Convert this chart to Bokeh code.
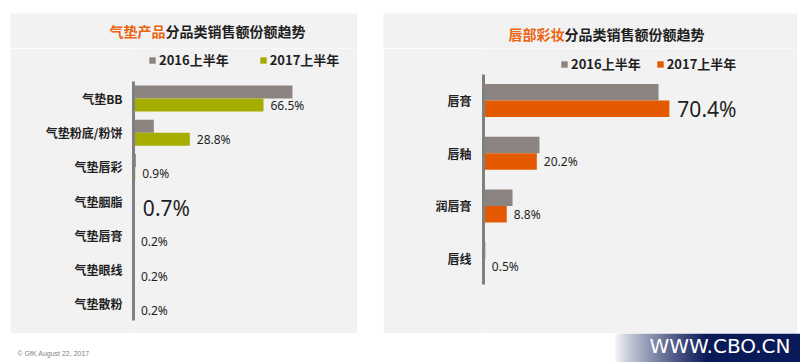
from bokeh.plotting import figure
from bokeh.models import Range1d, FixedTicker, Legend, LegendItem, ColumnDataSource, Spacer
from bokeh.layouts import row, column
from bokeh.transform import dodge
from bokeh.core.properties import value
from bokeh.embed import file_html
from bokeh.resources import INLINE

# ---------------- data ----------------
series_labels = ["2016上半年", "2017上半年"]

left_title_hl = "气垫产品"
left_title_rest = "分品类销售额份额趋势"
left_cats = ["气垫BB", "气垫粉底/粉饼", "气垫唇彩", "气垫胭脂", "气垫唇膏", "气垫眼线", "气垫散粉"]
left_2016 = [81.3, 10.4, 1.2, 0.1, 0.05, 0.05, 0.05]
left_2017 = [66.5, 28.8, 0.9, 0.7, 0.2, 0.2, 0.2]
left_highlight = "气垫胭脂"

right_title_hl = "唇部彩妆"
right_title_rest = "分品类销售额份额趋势"
right_cats = ["唇膏", "唇釉", "润唇膏", "唇线"]
right_2016 = [66.3, 21.2, 11.0, 0.7]
right_2017 = [70.4, 20.2, 8.8, 0.5]
right_highlight = "唇膏"

footer_note = "© GfK August 22, 2017"
watermark = "WWW.CBO.CN"

# ---------------- styles ----------------
GRAY = "#8C8480"
GREEN = "#A5AD00"
ORANGE = "#E35A00"
TITLE_ORANGE = "#EB6410"
DARK = "#1F1F1F"
PANEL_BG = "#F2F2F2"
CJK = value("Noto Sans CJK SC")
NUM = value("Noto Sans")

HEAD_H = 35      # header strip (title) height
CHART_H = 285    # chart strip height


def blank(width, height, bg):
    p = figure(width=width, height=height, output_backend="svg", toolbar_location=None,
               x_range=Range1d(0, width), y_range=Range1d(height, 0),
               x_axis_location=None, y_axis_location=None, frame_align=False,
               min_border_left=0, min_border_right=0, min_border_top=0, min_border_bottom=0)
    p.background_fill_color = bg
    p.border_fill_color = bg
    p.outline_line_color = None
    p.xgrid.visible = False
    p.ygrid.visible = False
    return p


def make_header(width, title_hl, title_rest, split_x, title_y):
    h = blank(width, HEAD_H, PANEL_BG)
    h.text(x=[split_x], y=[title_y], text=[title_hl], text_align="right", text_baseline="middle",
           text_font=CJK, text_font_style="bold", text_font_size="14px", text_color=TITLE_ORANGE)
    h.text(x=[split_x], y=[title_y], text=[title_rest], text_align="left", text_baseline="middle",
           text_font=CJK, text_font_style="bold", text_font_size="14px", text_color=DARK)
    return h


def make_panel(width, height, frame_left, cats, v16, v17, color17, highlight,
               px_per_pct, first_center, cat_step, bar_px,
               legend_x, legend_bottom, legend_spacing, standoff):
    n = len(cats)
    y_top = -first_center / cat_step
    y_bot = (height - first_center) / cat_step
    x_end = (width - frame_left) / px_per_pct
    p = figure(width=width, height=height, output_backend="svg", toolbar_location=None,
               x_range=Range1d(0, x_end), y_range=Range1d(y_bot, y_top),
               x_axis_location=None, frame_align=False,
               min_border_left=frame_left, min_border_right=0,
               min_border_top=0, min_border_bottom=0)
    p.background_fill_color = PANEL_BG
    p.border_fill_color = PANEL_BG
    p.outline_line_color = None
    p.xgrid.visible = False
    p.ygrid.visible = False

    h = bar_px / cat_step
    src = ColumnDataSource(dict(pos=list(range(n)), v16=v16, v17=v17))
    r16 = p.hbar(y=dodge("pos", -h / 2), left=0, right="v16", height=h,
                 fill_color=GRAY, line_color=None, source=src)
    r17 = p.hbar(y=dodge("pos", h / 2), left=0, right="v17", height=h,
                 fill_color=color17, line_color=None, source=src)

    # value labels
    norm = [i for i in range(n) if cats[i] != highlight]
    big = [i for i in range(n) if cats[i] == highlight]
    for idxs, size, off in ((norm, "12px", 7), (big, "21px", 8)):
        s = ColumnDataSource(dict(pos=[i for i in idxs], v=[v17[i] for i in idxs],
                                  lab=[f"{v17[i]:g}%" for i in idxs]))
        p.text(x="v", y=dodge("pos", h / 2), text="lab", source=s, x_offset=off,
               text_align="left", text_baseline="middle", text_font=NUM,
               text_font_size=size, text_color=DARK)

    # category axis
    ax = p.yaxis[0]
    ax.ticker = FixedTicker(ticks=list(range(n)))
    ax.major_label_overrides = {i: c for i, c in enumerate(cats)}
    ax.bounds = (-0.5, n - 0.5)
    ax.axis_line_color = "#808080"
    ax.axis_line_width = 3
    ax.major_tick_line_color = None
    ax.minor_tick_line_color = None
    ax.major_tick_out = 0
    ax.major_tick_in = 0
    ax.minor_tick_out = 0
    ax.major_label_standoff = standoff
    ax.major_label_text_font = "Noto Sans CJK SC"
    ax.major_label_text_font_style = "bold"
    ax.major_label_text_font_size = "12px"
    ax.major_label_text_color = DARK

    legend = Legend(items=[LegendItem(label=series_labels[0], renderers=[r16]),
                           LegendItem(label=series_labels[1], renderers=[r17])],
                    orientation="horizontal", location=(legend_x, legend_bottom),
                    glyph_width=8, glyph_height=8, label_height=14, label_standoff=3,
                    spacing=legend_spacing, padding=0, margin=0,
                    background_fill_alpha=0, border_line_color=None,
                    label_text_font="Noto Sans CJK SC", label_text_font_style="bold",
                    label_text_font_size="13px", label_text_color=DARK)
    p.add_layout(legend)
    return p


hL = make_header(347, left_title_hl, left_title_rest, 155, 17)
pL = make_panel(347, CHART_H, 123, left_cats, left_2016, left_2017, GREEN, left_highlight,
                1.955, 50, 34.2, 13, 15, 264, 30, 11)
hR = make_header(414, right_title_hl, right_title_rest, 181, 20)
pR = make_panel(414, CHART_H, 100, right_cats, right_2016, right_2017, ORANGE, right_highlight,
                2.64, 52, 52.7, 16.5, 77, 260, 15, 12)

# footer
FW, FH = 800, 29
pF = blank(FW, FH, "white")
pF.y_range = Range1d(0, FH)

navy = (10, 26, 88)
g0, g1, step = 612, 705, 3
lefts, rights, cols = [], [], []
x = g0
while x < FW:
    t = min(max((x - g0) / (g1 - g0), 0), 1)
    t = t ** 0.8
    c = tuple(int(round(255 + (nv - 255) * t)) for nv in navy)
    lefts.append(x)
    rights.append(x + step + 0.5)
    cols.append("#%02x%02x%02x" % c)
    x += step
pF.quad(left=lefts, right=rights, bottom=0, top=FH, fill_color=cols, line_color=None)
pF.text(x=[790], y=[17], text=[watermark], text_align="right", text_baseline="middle",
        text_font=value("DejaVu Sans"), text_font_size="20px", text_color="white")
pF.text(x=[17], y=[9], text=[footer_note], text_align="left", text_baseline="middle",
        text_font=value("Liberation Sans"), text_font_size="7px", text_color="#7F7F7F")

top = row(Spacer(width=10, height=320), column(hL, pL), Spacer(width=26, height=320),
          column(hR, pR), Spacer(width=3, height=320))
layout = column(Spacer(width=800, height=13), top, pF)

open("out.html", "w").write(file_html(layout, INLINE))
